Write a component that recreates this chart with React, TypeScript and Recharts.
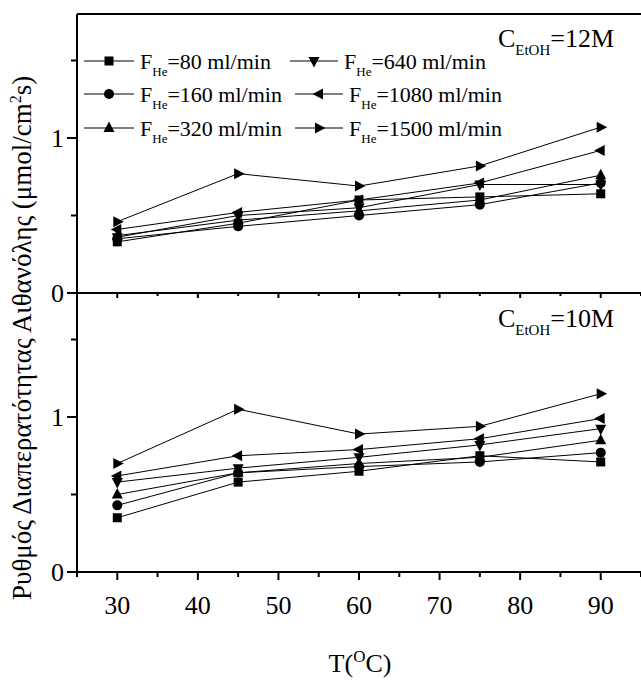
import React from 'react';
import { LineChart, Line, XAxis, YAxis } from 'recharts';

// ---- data ----
const temperatures = [30, 45, 60, 75, 90];
const flowLabels = ['80', '160', '320', '640', '1080', '1500'];
const seriesKeys = ['f80', 'f160', 'f320', 'f640', 'f1080', 'f1500'];

// C_EtOH = 12M (top panel)
const top80 = [0.33, 0.45, 0.60, 0.62, 0.64];
const top160 = [0.35, 0.43, 0.50, 0.57, 0.71];
const top320 = [0.37, 0.47, 0.53, 0.60, 0.76];
const top640 = [0.36, 0.50, 0.55, 0.70, 0.70];
const top1080 = [0.41, 0.52, 0.60, 0.71, 0.92];
const top1500 = [0.46, 0.77, 0.69, 0.82, 1.07];

// C_EtOH = 10M (bottom panel)
const bot80 = [0.35, 0.58, 0.65, 0.75, 0.71];
const bot160 = [0.43, 0.64, 0.68, 0.71, 0.77];
const bot320 = [0.50, 0.64, 0.70, 0.74, 0.85];
const bot640 = [0.58, 0.67, 0.74, 0.82, 0.925];
const bot1080 = [0.62, 0.75, 0.79, 0.86, 0.99];
const bot1500 = [0.70, 1.05, 0.89, 0.94, 1.15];

const xTicks = [25, 30, 35, 40, 45, 50, 55, 60, 65, 70, 75, 80, 85, 90, 95];
const xLabelTicks = [30, 40, 50, 60, 70, 80, 90];
const yTicks = [0, 0.5, 1, 1.5];
const yLabelTicks = [0, 1];
const xDomain = [25, 95];
const yDomain = [0, 1.8];

const topSeries = [top80, top160, top320, top640, top1080, top1500];
const botSeries = [bot80, bot160, bot320, bot640, bot1080, bot1500];

const buildRows = (series: number[][]) =>
  temperatures.map((t, i) => {
    const row: Record<string, number> = { T: t };
    seriesKeys.forEach((k, j) => {
      row[k] = series[j][i];
    });
    return row;
  });

const topData = buildRows(topSeries);
const botData = buildRows(botSeries);

// ---- styling / layout ----
const W = 641;
const H = 680;
const FONT = '"Liberation Serif", "Times New Roman", serif';
const AXIS_LEFT = 77;
const PANEL_TOP = 14;
const PANEL_MID = 293;
const PANEL_BOT = 572;
const shapes = ['square', 'circle', 'up', 'down', 'left', 'right'];

function Marker({ cx, cy, shape }: { cx: number; cy: number; shape: string }) {
  const f = '#000';
  switch (shape) {
    case 'square':
      return <rect x={cx - 4.5} y={cy - 4.5} width={9} height={9} fill={f} />;
    case 'circle':
      return <circle cx={cx} cy={cy} r={5} fill={f} />;
    case 'up':
      return <polygon points={`${cx},${cy - 6.5} ${cx + 5.5},${cy + 4} ${cx - 5.5},${cy + 4}`} fill={f} />;
    case 'down':
      return <polygon points={`${cx},${cy + 6.5} ${cx + 5.5},${cy - 4} ${cx - 5.5},${cy - 4}`} fill={f} />;
    case 'left':
      return <polygon points={`${cx - 6.5},${cy} ${cx + 4},${cy - 5.5} ${cx + 4},${cy + 5.5}`} fill={f} />;
    default:
      return <polygon points={`${cx + 6.5},${cy} ${cx - 4},${cy - 5.5} ${cx - 4},${cy + 5.5}`} fill={f} />;
  }
}

const makeXTick = (showLabel: boolean, dir: number, majorLen: number, minorLen: number) => (props: any) => {
  const { x, y, payload } = props;
  const v = payload.value;
  const major = xLabelTicks.includes(v);
  const len = major ? majorLen : minorLen;
  return (
    <g>
      <line x1={x} x2={x} y1={y} y2={y + dir * len} stroke="#000" strokeWidth={2} />
      {showLabel && major && (
        <text x={x} y={y + 42} textAnchor="middle" fontSize={26} fontFamily={FONT} fill="#000">
          {v}
        </text>
      )}
    </g>
  );
};

const YTick = (props: any) => {
  const { x, y, payload } = props;
  const v = payload.value;
  const major = yLabelTicks.includes(v);
  return (
    <g>
      <line x1={x} x2={x - (major ? 10 : 6)} y1={y} y2={y} stroke="#000" strokeWidth={2} />
      {major && (
        <text x={x - 13} y={y + 9} textAnchor="end" fontSize={26} fontFamily={FONT} fill="#000">
          {v}
        </text>
      )}
    </g>
  );
};

function Panel({ data, top, bottom, isBottom }: { data: any[]; top: number; bottom: number; isBottom: boolean }) {
  const xAxisH = isBottom ? H - bottom : 1;
  return (
    <div style={{ position: 'absolute', left: 0, top: 0 }}>
      <LineChart
        width={W + 10}
        height={H}
        data={data}
        margin={{ top: top - 1, right: 10, bottom: isBottom ? 0 : H - bottom - 1, left: 0 }}
      >
        <XAxis
          xAxisId="main"
          type="number"
          dataKey="T"
          domain={xDomain}
          ticks={xTicks}
          interval={0}
          allowDataOverflow
          height={xAxisH}
          tickLine={false}
          tickSize={0}
          tickMargin={0}
          axisLine={{ stroke: '#000', strokeWidth: 2 }}
          tick={isBottom ? makeXTick(true, 1, 8, 5) : makeXTick(false, 1, 5, 3)}
        />
        <XAxis
          xAxisId="frame"
          orientation="top"
          type="number"
          dataKey="T"
          domain={xDomain}
          allowDataOverflow
          height={1}
          tick={false}
          tickLine={false}
          axisLine={{ stroke: '#000', strokeWidth: 2 }}
        />
        <YAxis
          type="number"
          domain={yDomain}
          ticks={yTicks}
          interval={0}
          allowDataOverflow
          width={AXIS_LEFT}
          tickLine={false}
          tickSize={0}
          tickMargin={0}
          axisLine={{ stroke: '#000', strokeWidth: 2 }}
          tick={YTick}
        />
        {seriesKeys.map((k, j) => (
          <Line
            key={k}
            xAxisId="main"
            type="linear"
            dataKey={k}
            stroke="#000"
            strokeWidth={1}
            isAnimationActive={false}
            activeDot={false}
            dot={(p: any) => <Marker key={`${k}-${p.index}`} cx={p.cx} cy={p.cy} shape={shapes[j]} />}
          />
        ))}
      </LineChart>
    </div>
  );
}

function FLabel({ x, y, flow }: { x: number; y: number; flow: string }) {
  return (
    <text x={x} y={y} fontSize={22} fontFamily={FONT} fill="#000">
      F
      <tspan fontSize={13} dy={7}>He</tspan>
      <tspan fontSize={22} dy={-7}>={flow} ml/min</tspan>
    </text>
  );
}

function LegendItem({ x, y, idx, lineLen, textGap }: { x: number; y: number; idx: number; lineLen: number; textGap: number }) {
  return (
    <g>
      <line x1={x} x2={x + lineLen} y1={y} y2={y} stroke="#000" strokeWidth={1} />
      <Marker cx={x + lineLen / 2} cy={y} shape={shapes[idx]} />
      <FLabel x={x + lineLen + textGap} y={y + 8} flow={flowLabels[idx]} />
    </g>
  );
}

function Overlay() {
  const rows = [61, 94, 128];
  return (
    <svg width={W} height={H} style={{ position: 'absolute', left: 0, top: 0, pointerEvents: 'none' }}>
      {rows.map((ry, i) => (
        <LegendItem key={`c1-${i}`} x={84} y={ry} idx={i} lineLen={50} textGap={6} />
      ))}
      {rows.map((ry, i) => (
        <LegendItem key={`c2-${i}`} x={i === 0 ? 290 : 295} y={ry} idx={i + 3} lineLen={48} textGap={6} />
      ))}
      <text x={614} y={47} textAnchor="end" fontSize={26} fontFamily={FONT} fill="#000">
        C<tspan fontSize={15} dy={8}>EtOH</tspan>
        <tspan fontSize={26} dy={-8}>=12M</tspan>
      </text>
      <text x={614} y={327} textAnchor="end" fontSize={26} fontFamily={FONT} fill="#000">
        C<tspan fontSize={15} dy={8}>EtOH</tspan>
        <tspan fontSize={26} dy={-8}>=10M</tspan>
      </text>
      <text x={360} y={672} textAnchor="middle" fontSize={26} fontFamily={FONT} fill="#000">
        T(<tspan fontSize={17} dy={-10}>O</tspan>
        <tspan fontSize={26} dy={10}>C)</tspan>
      </text>
      <text
        transform="rotate(-90)"
        x={-600}
        y={31}
        textAnchor="start"
        fontSize={27}
        fontFamily={FONT}
        fill="#000"
      >
        Ρυθμός Διαπερατότητας Αιθανόλης (μmol/cm<tspan fontSize={16} dy={-10}>2</tspan>
        <tspan fontSize={27} dy={10}>s)</tspan>
      </text>
    </svg>
  );
}

export default function App() {
  return (
    <div
      style={{
        position: 'absolute',
        left: 0,
        top: 0,
        width: W,
        height: H,
        overflow: 'hidden',
        background: '#fff',
      }}
    >
      <Panel data={topData} top={PANEL_TOP} bottom={PANEL_MID} isBottom={false} />
      <Panel data={botData} top={PANEL_MID} bottom={PANEL_BOT} isBottom={true} />
      <Overlay />
    </div>
  );
}
